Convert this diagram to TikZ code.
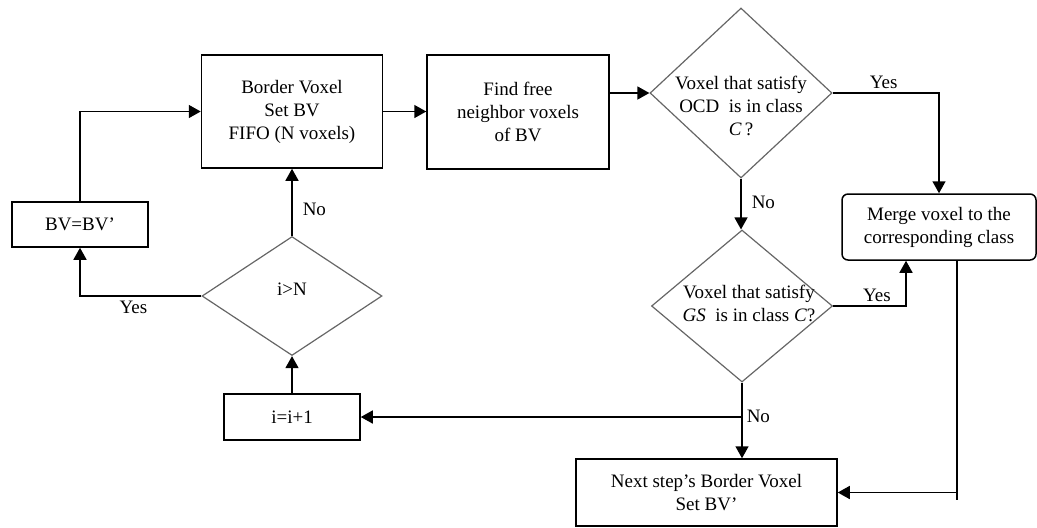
\documentclass[tikz,border=0pt]{standalone}
\usepackage{fontspec}
\setmainfont{Liberation Serif}
\usetikzlibrary{shapes.geometric, arrows.meta, positioning}

\newcommand{\dlines}[2][0pt]{\smash{\raisebox{#1}{\makebox[0pt]{\begin{tabular}{@{}c@{}}#2\end{tabular}}}}}

\begin{document}
\begin{tikzpicture}[x=0.5pt, y=-0.5pt,
    every node/.style={font=\fontsize{9.5pt}{11.5pt}\selectfont},
    box/.style={draw, line width=0.75pt, inner sep=0pt, align=center},
    ask/.style={diamond, draw=black!60, line width=0.6pt, inner sep=0pt},
    arr/.style={line width=0.75pt, -{Triangle[length=6pt, width=6.5pt]}},
    lbl/.style={inner sep=2pt}]
  \useasboundingbox (0,0) rectangle (1037,527);

  % boxes
  \node [box, minimum width=90.5pt, minimum height=56.5pt] (bv) at (292,111.5)
        {Border Voxel\\Set BV\\FIFO (N voxels)};
  \node [box, minimum width=91pt, minimum height=57pt] (find) at (518,112)
        {Find free\\neighbor voxels\\of BV};
  \node [box, minimum width=68pt, minimum height=22.5pt] (bvp) at (80,224.5) {BV=BV’};
  \node [box, minimum width=68pt, minimum height=23pt] (inc) at (292,417) {i=i+1};
  \node [box, minimum width=130.5pt, minimum height=33.5pt] (next) at (706.5,492.5)
        {Next step’s Border Voxel\\Set BV’};
  \node [box, rounded corners=3pt, minimum width=97pt, minimum height=33pt] (merge) at (939,227)
        {Merge voxel to the\\corresponding class};

  % decisions
  \node [ask, minimum width=91pt, minimum height=85pt] (ocd) at (741,93)
        {\dlines[-9.5pt]{Voxel that satisfy\\OCD\enspace is in class\\\textit{C}\,?}};
  \node [ask, minimum width=90.5pt, minimum height=76pt] (gs) at (742,306)
        {\dlines[-2pt]{\hspace{7pt}Voxel that satisfy\\\hspace{7pt}\textit{GS}\enspace is in class \textit{C}?}};
  \node [ask, minimum width=90pt, minimum height=59.5pt] (dec) at (292,296)
        {\dlines[0.5pt]{i>N}};

  % connectors
  \draw [arr] (bvp.north) |- (bv.west);
  \draw [arr] (bv.east) -- (bv.east -| find.west);
  \draw [arr] (find.east |- ocd.west) -- (ocd.west);
  \draw [arr] (ocd.east) -| node [lbl, above, pos=0.24] {Yes} (merge.north);
  \draw [arr] (ocd.south) -- node [lbl, right, pos=0.46, inner sep=5pt] {No} (ocd.south |- gs.north);
  \draw [arr] (gs.east) -| node [lbl, above, pos=0.3] {Yes} ([xshift=-16.5pt]merge.south);
  \coordinate (mturn) at ([xshift=9pt]merge.south |- next.east);
  \draw [line width=0.75pt] ([xshift=9pt]merge.south) -- ([yshift=-3.5pt]mturn);
  \draw [arr] (mturn) -- (next.east);
  \draw [arr] (gs.south) -- node [lbl, right, pos=0.45] {No} (gs.south |- next.north);
  \draw [arr] (gs.south |- inc.east) -- (inc.east);
  \draw [arr] (inc.north) -- (dec.south);
  \draw [arr] (dec.north) -- node [lbl, right, pos=0.4, inner sep=5pt] {No} (bv.south);
  \draw [arr] (dec.west) -| node [lbl, below, pos=0.28] {Yes} (bvp.south);
\end{tikzpicture}
\end{document}
